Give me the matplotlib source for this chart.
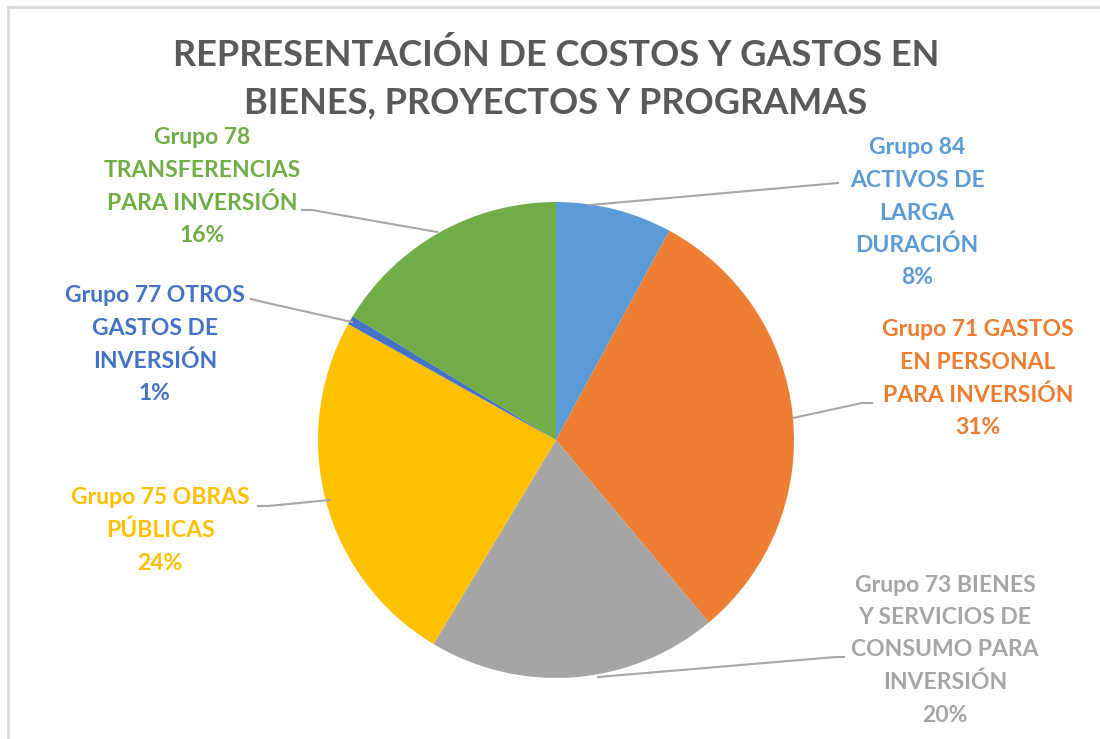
import matplotlib.pyplot as plt
from matplotlib.lines import Line2D

W, H = 1100, 739

groups = ["Grupo 84", "Grupo 71", "Grupo 73", "Grupo 75", "Grupo 77", "Grupo 78"]
shares = [7.9, 31.0, 19.7, 24.5, 0.6, 16.3]
colors = ["#5B9BD5", "#ED7D31", "#A5A5A5", "#FFC000", "#4472C4", "#70AD47"]
label_lines = [
    ["Grupo 84", "ACTIVOS DE", "LARGA", "DURACIÓN"],
    ["Grupo 71 GASTOS", "EN PERSONAL", "PARA INVERSIÓN"],
    ["Grupo 73 BIENES", "Y SERVICIOS DE", "CONSUMO PARA", "INVERSIÓN"],
    ["Grupo 75 OBRAS", "PÚBLICAS"],
    ["Grupo 77 OTROS", "GASTOS DE", "INVERSIÓN"],
    ["Grupo 78", "TRANSFERENCIAS", "PARA INVERSIÓN"],
]

# label block positions (px, centre x / first line y) and leader lines
label_pos = [(917, 148), (978, 330), (945, 585), (160, 498), (155, 296), (202, 138)]
leaders = [
    [(838, 183), (590, 205)],
    [(872, 403), (862, 403), (793, 418)],
    [(844, 657), (836, 657), (598, 677)],
    [(258, 506), (268, 506), (330, 500)],
    [(251, 299), (263, 302), (352, 322)],
    [(302, 210), (312, 210), (437, 232)],
]

plt.rcParams['font.family'] = ['Lato', 'DejaVu Sans']

fig = plt.figure(figsize=(W / 100, H / 100), dpi=100)
ax = fig.add_axes([0, 0, 1, 1])
ax.set_xlim(0, W)
ax.set_ylim(0, H)
ax.axis("off")


def py(y):
    return H - y


ax.pie(shares, colors=colors, startangle=90, counterclock=False,
       center=(556, py(440)), radius=238, wedgeprops=dict(linewidth=0))
ax.set_xlim(0, W)
ax.set_ylim(0, H)
ax.set_aspect("equal")

ax.text(556, py(55), "REPRESENTACIÓN DE COSTOS Y GASTOS EN", ha="center", va="center",
        fontsize=26, fontweight="bold", color="#595959")
ax.text(556, py(103), "BIENES, PROYECTOS Y PROGRAMAS", ha="center", va="center",
        fontsize=26, fontweight="bold", color="#595959")

for lines, share, col, (x0, y0), pts in zip(label_lines, shares, colors, label_pos, leaders):
    txt = lines + [f"{round(share):.0f}%"]
    for i, t in enumerate(txt):
        ax.text(x0, py(y0 + i * 32.5), t, ha="center", va="center",
                fontsize=16.5, fontweight="bold", color=col)
    xs = [p[0] for p in pts]
    ys = [py(p[1]) for p in pts]
    ax.plot(xs, ys, color="#A6A6A6", lw=1.5)

# chart area border
fig.add_artist(Line2D([8 / W, 1], [1 - 7 / H, 1 - 7 / H], color="#D9D9D9", lw=2))
fig.add_artist(Line2D([8 / W, 8 / W], [0, 1 - 7 / H], color="#D9D9D9", lw=2))

fig.savefig("out.png", dpi=100)
